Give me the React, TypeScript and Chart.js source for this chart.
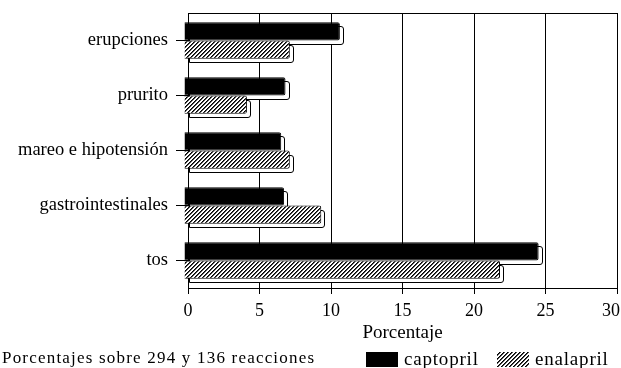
import React, { useEffect, useRef } from 'react';
import { Chart, registerables } from 'chart.js';

Chart.register(...registerables);

const categories = ['erupciones', 'prurito', 'mareo e hipotensión', 'gastrointestinales', 'tos'];
const captopril = [10.9, 7.1, 6.8, 7.0, 24.8];
const enalapril = [7.4, 4.4, 7.4, 9.6, 22.1];
const seriesNames = ['captopril', 'enalapril'];
const xTicks = [0, 5, 10, 15, 20, 25, 30];
const axisTitle = 'Porcentaje';
const footnote = 'Porcentajes sobre 294 y 136 reacciones';

const FONT = '"Liberation Serif", "Times New Roman", serif';
const D = 4; // depth of the 3D effect
const SHIFT = 4; // front face shift to the left

function makeHatch(): CanvasPattern | string {
  const c = document.createElement('canvas');
  c.width = 4;
  c.height = 4;
  const g = c.getContext('2d');
  if (!g) return '#888';
  g.fillStyle = '#fff';
  g.fillRect(0, 0, 4, 4);
  for (let y = 0; y < 4; y++) {
    for (let x = 0; x < 4; x++) {
      const s = (x + y) % 4;
      if (s === 3) {
        g.fillStyle = '#000';
        g.fillRect(x, y, 1, 1);
      } else if (s === 0) {
        g.fillStyle = 'rgba(0,0,0,0.7)';
        g.fillRect(x, y, 1, 1);
      }
    }
  }
  return g.createPattern(c, 'repeat') || '#888';
}

function roundedPath(ctx: CanvasRenderingContext2D, l: number, t: number, r: number, b: number, rad: number) {
  ctx.beginPath();
  ctx.moveTo(l, t);
  ctx.lineTo(r - rad, t);
  ctx.quadraticCurveTo(r, t, r, t + rad);
  ctx.lineTo(r, b - rad);
  ctx.quadraticCurveTo(r, b, r - rad, b);
  ctx.lineTo(l, b);
  ctx.closePath();
}

const depthPlugin = {
  id: 'depth3d',
  beforeDatasetsDraw(chart: any) {
    const ctx = chart.ctx as CanvasRenderingContext2D;
    ctx.save();
    ctx.translate(-SHIFT, 0);
    chart.data.datasets.forEach((_ds: any, i: number) => {
      const meta = chart.getDatasetMeta(i);
      meta.data.forEach((el: any) => {
        const { x, y, base, height } = el.getProps(['x', 'y', 'base', 'height'], true);
        const t = Math.round(y - height / 2) + D + 0.5;
        const b = Math.round(y + height / 2) + D - 0.5;
        const l = Math.round(base) + D + 0.5;
        const r = Math.round(x) + D - 0.5;
        roundedPath(ctx, l, t, r, b, 2.5);
        ctx.fillStyle = '#fff';
        ctx.fill();
        ctx.strokeStyle = '#000';
        ctx.lineWidth = 1;
        ctx.stroke();
      });
    });
  },
  afterDatasetsDraw(chart: any) {
    chart.ctx.restore();
  },
};

const decorPlugin = {
  id: 'decor',
  afterDraw(chart: any) {
    const ctx = chart.ctx as CanvasRenderingContext2D;
    const area = chart.chartArea;
    ctx.save();
    // top frame line
    ctx.strokeStyle = '#000';
    ctx.lineWidth = 1;
    ctx.beginPath();
    ctx.moveTo(Math.round(area.left), Math.round(area.top) + 0.5);
    ctx.lineTo(Math.round(area.right) + 1, Math.round(area.top) + 0.5);
    ctx.stroke();

    // footnote
    ctx.fillStyle = '#000';
    ctx.font = `17px ${FONT}`;
    ctx.textBaseline = 'middle';
    ctx.textAlign = 'left';
    (ctx as any).letterSpacing = '1.2px';
    ctx.fillText(footnote, 2, 359);
    (ctx as any).letterSpacing = '0px';

    // legend
    const boxes = [
      { bx: 366, tx: 404 },
      { bx: 497, tx: 535 },
    ];
    chart.data.datasets.forEach((ds: any, i: number) => {
      const p = boxes[i];
      if (!p) return;
      ctx.fillStyle = ds.backgroundColor;
      ctx.fillRect(p.bx, 352, 32, 15);
      ctx.fillStyle = '#000';
      ctx.font = `19px ${FONT}`;
      (ctx as any).letterSpacing = '0.8px';
      ctx.fillText(ds.label, p.tx, 360);
      (ctx as any).letterSpacing = '0px';
    });
    ctx.restore();
  },
};

export default function App() {
  const ref = useRef<HTMLCanvasElement | null>(null);

  useEffect(() => {
    if (!ref.current) return;
    const hatch = makeHatch();
    const chart = new Chart(ref.current, {
      type: 'bar',
      data: {
        labels: categories,
        datasets: [
          {
            label: seriesNames[0],
            data: captopril,
            backgroundColor: '#000',
            borderColor: '#000',
            borderWidth: 1,
            borderRadius: 2,
            borderSkipped: 'start',
            categoryPercentage: 0.66,
            barPercentage: 1,
          },
          {
            label: seriesNames[1],
            data: enalapril,
            backgroundColor: hatch as any,
            borderColor: '#000',
            borderWidth: 1,
            borderRadius: 2,
            borderSkipped: 'start',
            categoryPercentage: 0.66,
            barPercentage: 1,
          },
        ],
      },
      options: {
        indexAxis: 'y',
        animation: false,
        responsive: false,
        devicePixelRatio: 1,
        layout: { padding: { top: 13, right: 4, bottom: 24, left: 0 } },
        plugins: {
          legend: { display: false },
          tooltip: { enabled: false },
        },
        scales: {
          x: {
            min: 0,
            max: 30,
            afterBuildTicks(s: any) {
              s.ticks = xTicks.map((v) => ({ value: v }));
            },
            ticks: {
              color: '#000',
              font: { family: FONT, size: 18 },
              padding: 6,
              maxRotation: 0,
            },
            grid: { color: '#000', lineWidth: 1, tickLength: 6, drawTicks: true },
            border: { display: true, color: '#000' },
            title: {
              display: true,
              text: axisTitle,
              color: '#000',
              font: { family: FONT, size: 19 },
              padding: 0,
            },
            afterFit(s: any) {
              s.height = 56;
              s.paddingLeft = 0;
              s.paddingRight = 0;
            },
            afterUpdate(s: any) {
              if (s.__patched) return;
              s.__patched = true;
              const orig = s._computeLabelItems.bind(s);
              s._computeLabelItems = (ca: any) => {
                const items = orig(ca);
                const last = items && items[items.length - 1];
                if (last && last.options && last.options.translation) {
                  last.options.translation[0] -= 6;
                }
                return items;
              };
            },
          },
          y: {
            ticks: { color: '#000', font: { family: FONT, size: 18.5 }, padding: 8 },
            grid: { drawOnChartArea: false, color: '#000', tickLength: 12, offset: false },
            border: { display: true, color: '#000' },
            afterFit(s: any) {
              s.width = 188;
              s.paddingTop = 0;
              s.paddingBottom = 0;
            },
          },
        },
      },
      plugins: [depthPlugin, decorPlugin],
    });
    return () => chart.destroy();
  }, []);

  return (
    <div style={{ position: 'absolute', left: 0, top: 0, width: 621, height: 368, background: '#fff' }}>
      <canvas ref={ref} width={621} height={368} style={{ display: 'block', width: 621, height: 368 }} />
    </div>
  );
}
